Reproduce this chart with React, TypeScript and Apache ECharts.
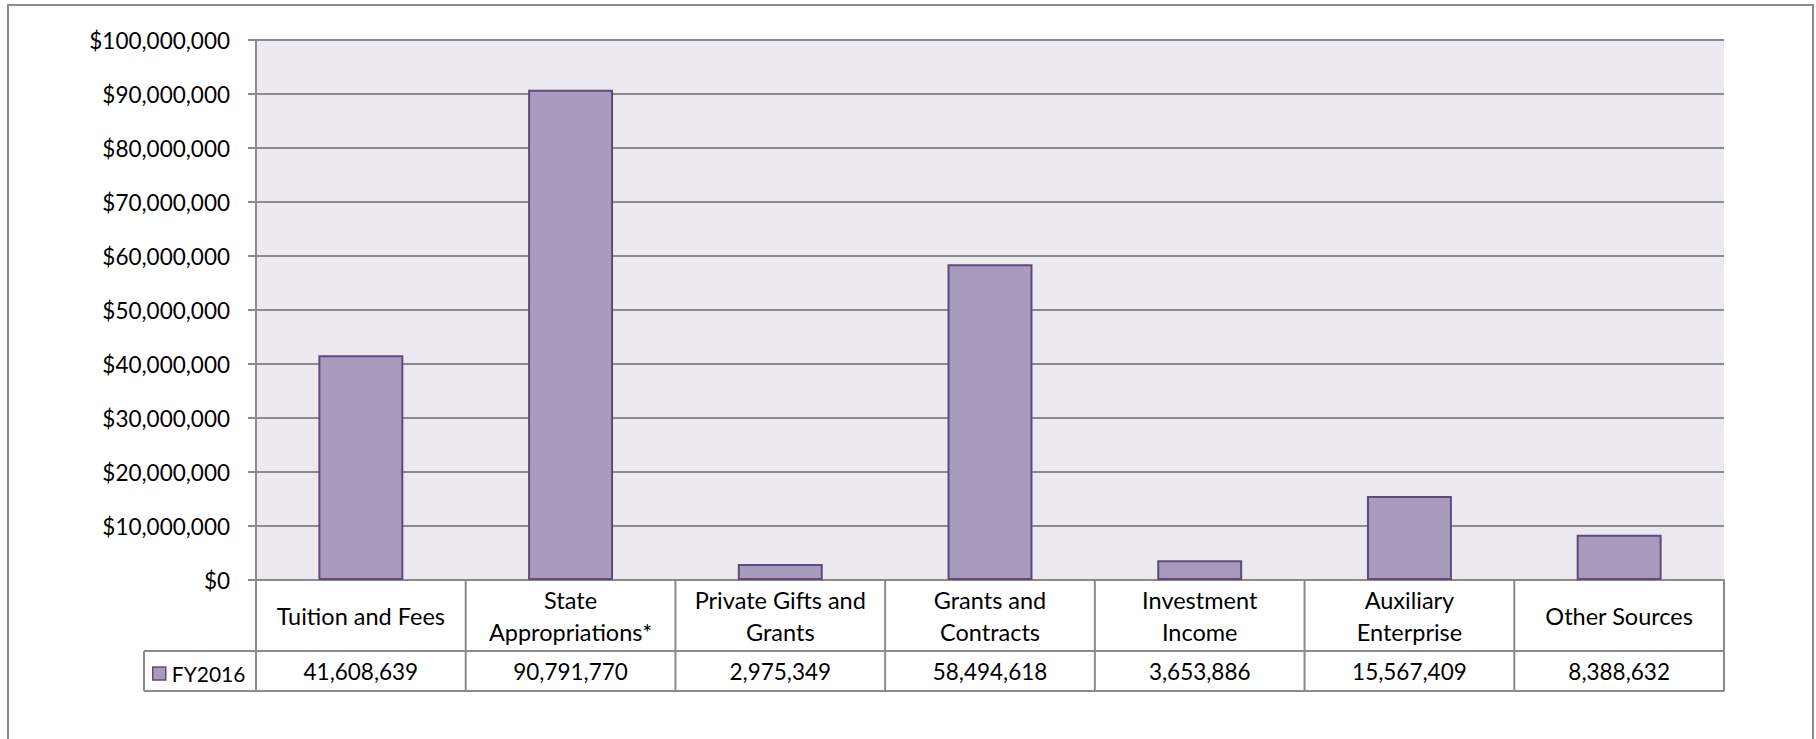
import React, { useEffect, useRef } from "react";
import * as echarts from "echarts";

const categories = [
  "Tuition and Fees",
  "State\nAppropriations*",
  "Private Gifts and\nGrants",
  "Grants and\nContracts",
  "Investment\nIncome",
  "Auxiliary\nEnterprise",
  "Other Sources",
];
const fy2016 = [41608639, 90791770, 2975349, 58494618, 3653886, 15567409, 8388632];
const seriesName = "FY2016";
const yMin = 0;
const yMax = 100000000;
const yInterval = 10000000;

const W = 1816;
const H = 739;
const GL = 256;
const GR = 1724;
const GT = 40;
const GB = 580;
const ROW1 = 651;
const ROW2 = 691;
const LEG_L = 144;

const FONT = "Lato";
const FS_NUM = 22.5;
const FS_TXT = 23.5;
const FS_LEG = 21;
const GRID_COLOR = "#8a8a8a";
const BAR_FILL = "#A99BBE";
const BAR_BORDER = "#5F4A7B";

export default function App() {
  const ref = useRef<HTMLDivElement>(null);
  useEffect(() => {
    if (!ref.current) return;
    const chart = echarts.init(ref.current, null, { renderer: "svg" });
    const n = categories.length;
    const cellW = (GR - GL) / n;
    const lineStyle = { stroke: GRID_COLOR, lineWidth: 2 };
    const lines: any[] = [];
    lines.push({ type: "line", shape: { x1: LEG_L, y1: ROW1, x2: GR, y2: ROW1 }, style: lineStyle });
    lines.push({ type: "line", shape: { x1: LEG_L, y1: ROW2, x2: GR, y2: ROW2 }, style: lineStyle });
    lines.push({ type: "line", shape: { x1: LEG_L, y1: ROW1, x2: LEG_L, y2: ROW2 }, style: lineStyle });
    for (let i = 0; i <= n; i++) {
      const x = GL + i * cellW;
      lines.push({ type: "line", shape: { x1: x, y1: GB, x2: x, y2: ROW2 }, style: lineStyle });
    }
    lines.push({
      type: "rect",
      shape: { x: 8, y: 5, width: 1805, height: 800 },
      style: { fill: "none", stroke: GRID_COLOR, lineWidth: 2 },
      z: -1,
    });

    chart.setOption({
      animation: false,
      backgroundColor: "#ffffff",
      textStyle: { fontFamily: FONT, fontSize: FS_NUM, color: "#000" },
      grid: {
        left: GL,
        right: W - GR,
        top: GT,
        bottom: H - GB,
        show: true,
        backgroundColor: "#EBE9EF",
        borderWidth: 0,
      },
      legend: {
        data: [seriesName],
        left: 152,
        top: 663,
        itemWidth: 13,
        itemHeight: 13,
        icon: "rect",
        padding: 0,
        itemStyle: { color: BAR_FILL, borderColor: BAR_BORDER, borderWidth: 1.5 },
        textStyle: { fontFamily: FONT, fontSize: FS_LEG, color: "#000", padding: [0, 0, 0, 1] },
      },
      xAxis: [
        {
          type: "category",
          data: categories,
          position: "bottom",
          axisLine: { show: true, lineStyle: { color: GRID_COLOR, width: 2 } },
          axisTick: { show: false },
          axisLabel: {
            interval: 0,
            margin: 36,
            verticalAlign: "middle",
            lineHeight: 32,
            fontFamily: FONT,
            fontSize: FS_TXT,
            color: "#000",
          },
        },
        {
          type: "category",
          data: fy2016.map((v) => v.toLocaleString("en-US")),
          position: "bottom",
          gridIndex: 0,
          axisLine: { show: false },
          axisTick: { show: false },
          axisLabel: {
            interval: 0,
            margin: 91,
            verticalAlign: "middle",
            fontFamily: FONT,
            fontSize: FS_NUM,
            color: "#000",
          },
        },
      ],
      yAxis: {
        type: "value",
        min: yMin,
        max: yMax,
        interval: yInterval,
        axisLine: { show: true, lineStyle: { color: GRID_COLOR, width: 2 } },
        axisTick: { show: true, length: 8, lineStyle: { color: GRID_COLOR, width: 2 } },
        splitLine: { show: true, lineStyle: { color: GRID_COLOR, width: 2 } },
        axisLabel: {
          margin: 26,
          fontFamily: FONT,
          fontSize: FS_NUM,
          color: "#000",
          formatter: (v: number) => "$" + v.toLocaleString("en-US"),
        },
      },
      series: [
        {
          name: seriesName,
          type: "bar",
          xAxisIndex: 0,
          data: fy2016,
          barCategoryGap: "59.5%",
          itemStyle: { color: BAR_FILL, borderColor: BAR_BORDER, borderWidth: 2 },
        },
      ],
      graphic: lines,
    });
    return () => chart.dispose();
  }, []);
  return (
    <div
      ref={ref}
      style={{ position: "absolute", left: 0, top: 0, width: W, height: H }}
    />
  );
}
